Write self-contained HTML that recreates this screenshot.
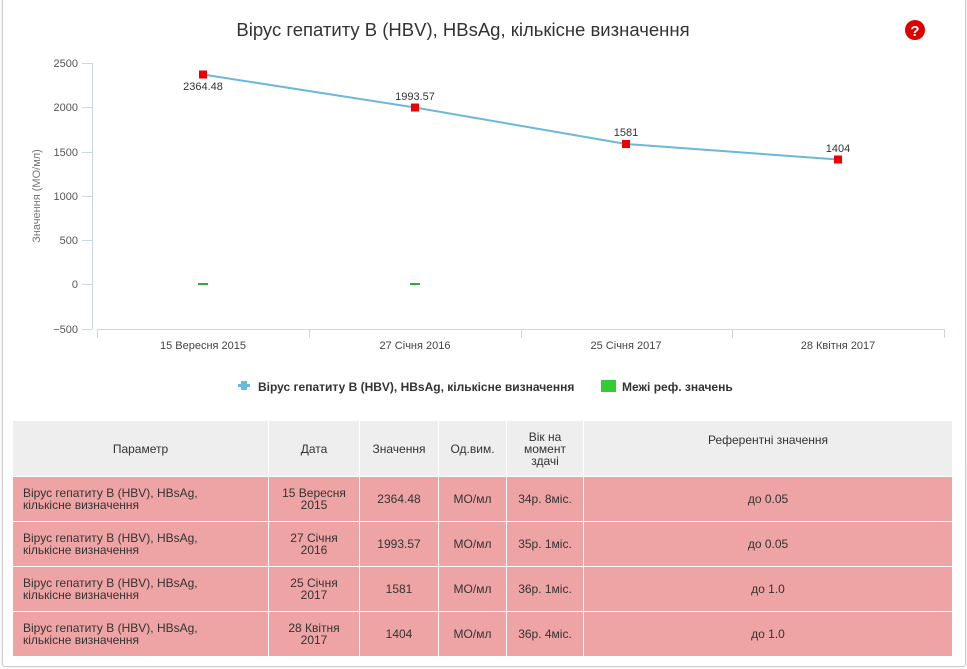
<!DOCTYPE html>
<html><head><meta charset="utf-8"><style>
body{margin:0;width:967px;height:669px;background:#fff;font-family:"Liberation Sans",sans-serif;position:relative;overflow:hidden}
.frame{position:absolute;left:2px;top:-2px;width:962px;height:667px;border:1px solid #ccc;border-radius:3px;box-shadow:0 0 2px #ddd}
table{position:absolute;left:12px;top:420px;width:941px;border-collapse:collapse;table-layout:fixed;font-size:12px;color:#333}
td,th{border:1px solid #fff;text-align:center;padding:0 3px;line-height:12px;box-sizing:border-box}
th{background:#eee;font-weight:normal;height:56px}
td{background:#eea4a5;height:45px}
td.l{text-align:left;padding-left:10px}
</style></head><body>
<div class="frame"></div>
<svg width="967" height="410" style="position:absolute;left:0;top:0" font-family="Liberation Sans, DejaVu Sans, sans-serif">
<text x="463" y="36" text-anchor="middle" font-size="18.5" fill="#333">Вірус гепатиту В (HBV), HBsAg, кількісне визначення</text>
<circle cx="915" cy="30" r="10" fill="#d00"/><text x="915" y="36" text-anchor="middle" font-size="15" font-weight="bold" fill="#fff">?</text>
<g stroke="#ccd6eb" stroke-width="1">
<line x1="92.5" y1="63" x2="92.5" y2="329"/>
<line x1="97" y1="329.5" x2="944" y2="329.5"/>
<line x1="97.5" y1="329" x2="97.5" y2="338"/><line x1="309.5" y1="329" x2="309.5" y2="338"/><line x1="521.5" y1="329" x2="521.5" y2="338"/><line x1="732.5" y1="329" x2="732.5" y2="338"/><line x1="944.5" y1="329" x2="944.5" y2="338"/>
<line x1="82" y1="63.5" x2="92" y2="63.5"/><line x1="82" y1="107.5" x2="92" y2="107.5"/><line x1="82" y1="152.5" x2="92" y2="152.5"/><line x1="82" y1="196.5" x2="92" y2="196.5"/><line x1="82" y1="240.5" x2="92" y2="240.5"/><line x1="82" y1="284.5" x2="92" y2="284.5"/><line x1="82" y1="329.5" x2="92" y2="329.5"/>
</g>
<g font-size="11" fill="#555" text-anchor="end">
<text x="78" y="67">2500</text><text x="78" y="111">2000</text><text x="78" y="156">1500</text><text x="78" y="200">1000</text><text x="78" y="244">500</text><text x="78" y="288">0</text><text x="78" y="333">−500</text>
</g>
<text transform="translate(40,196) rotate(-90)" text-anchor="middle" font-size="11" fill="#777">Значення (МО/мл)</text>
<g font-size="11" fill="#444" text-anchor="middle">
<text x="203" y="349">15 Вересня 2015</text><text x="415" y="349">27 Січня 2016</text><text x="626" y="349">25 Січня 2017</text><text x="838" y="349">28 Квітня 2017</text>
</g>
<polyline points="203,74.5 415,107.5 626,144 838,159.5" fill="none" stroke="#6cb8d8" stroke-width="2"/>
<g fill="#e00"><rect x="199" y="70.5" width="8" height="8"/><rect x="411" y="103.5" width="8" height="8"/><rect x="622" y="140" width="8" height="8"/><rect x="834" y="155.5" width="8" height="8"/></g>
<g stroke="#3a3" stroke-width="2"><line x1="198" y1="284" x2="208" y2="284"/><line x1="410" y1="284" x2="420" y2="284"/></g>
<g font-size="11" fill="#333" text-anchor="middle">
<text x="203" y="90">2364.48</text><text x="415" y="100">1993.57</text><text x="626" y="136">1581</text><text x="838" y="152">1404</text>
</g>
<rect x="238" y="384" width="12" height="3" fill="#6cb8d8"/><rect x="241" y="381" width="6" height="9" fill="#6cb8d8"/>
<text x="258" y="391" font-size="12" font-weight="bold" fill="#333">Вірус гепатиту В (HBV), HBsAg, кількісне визначення</text>
<rect x="601" y="380" width="15" height="12" fill="#3c3"/>
<text x="622" y="391" font-size="12" font-weight="bold" fill="#333">Межі реф. значень</text>
</svg>
<table>
<colgroup><col style="width:256px"><col style="width:91px"><col style="width:79px"><col style="width:68px"><col style="width:77px"><col></colgroup>
<tr><th>Параметр</th><th>Дата</th><th>Значення</th><th>Од.вим.</th><th>Вік на<br>момент<br>здачі</th><th style="vertical-align:top;padding-top:13px">Референтні значення</th></tr>
<tr><td class="l">Вірус гепатиту В (HBV), HBsAg,<br>кількісне визначення</td><td>15 Вересня<br>2015</td><td>2364.48</td><td>МО/мл</td><td>34р. 8міс.</td><td>до 0.05</td></tr>
<tr><td class="l">Вірус гепатиту В (HBV), HBsAg,<br>кількісне визначення</td><td>27 Січня<br>2016</td><td>1993.57</td><td>МО/мл</td><td>35р. 1міс.</td><td>до 0.05</td></tr>
<tr><td class="l">Вірус гепатиту В (HBV), HBsAg,<br>кількісне визначення</td><td>25 Січня<br>2017</td><td>1581</td><td>МО/мл</td><td>36р. 1міс.</td><td>до 1.0</td></tr>
<tr><td class="l">Вірус гепатиту В (HBV), HBsAg,<br>кількісне визначення</td><td>28 Квітня<br>2017</td><td>1404</td><td>МО/мл</td><td>36р. 4міс.</td><td>до 1.0</td></tr>
</table>
</body></html>
